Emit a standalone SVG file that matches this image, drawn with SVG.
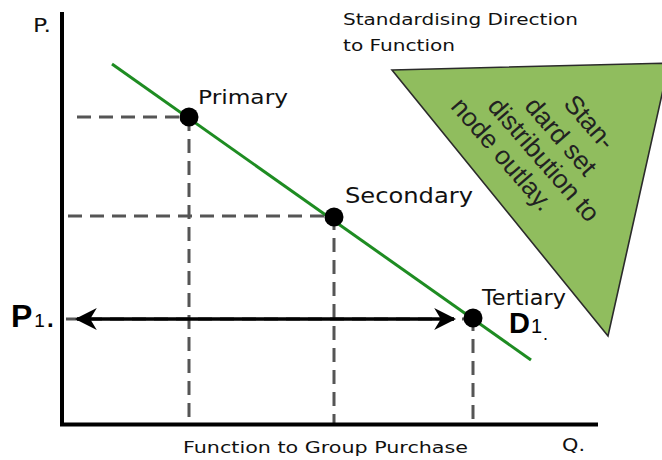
<svg xmlns="http://www.w3.org/2000/svg" width="662" height="460" viewBox="0 0 662 460">
<defs>
<style>
.lbl{font-family:"DejaVu Sans","Liberation Sans",sans-serif;fill:#111}
.big{font-family:"Liberation Sans",Arial,sans-serif;fill:#000}
.dash{stroke:#555;stroke-width:3;stroke-dasharray:14 8;fill:none}
.axis{stroke:#000;stroke-width:4;fill:none}
.dot{fill:#000}
.tri{font-family:"Liberation Sans",Arial,sans-serif;font-size:26px;fill:#222}
</style>
<marker id="ah" markerUnits="userSpaceOnUse" markerWidth="22" markerHeight="22" viewBox="0 0 20 20" refX="18" refY="10" orient="auto-start-reverse">
<path d="M0,0 L20,10 L0,20 L6,10 z" fill="#000"/>
</marker>
</defs>
<rect width="662" height="460" fill="#fff"/>

<g id="triangle">
<polygon points="392,70 669,63 608,336" fill="#90bd5e" stroke="#2b2b2b" stroke-width="1.6"/>
<g transform="rotate(49)" class="tri">
<text x="448" y="-356">Stan-</text>
<text x="424" y="-325">dard set</text>
<text x="400" y="-297">distribution to</text>
<text x="376" y="-269">node outlay.</text>
</g>
</g>

<g id="connectors">
<path class="dash" d="M77,117 H189 M68,216 H334 M66,319 H473 M189,117 V424 M334,216 V424 M473,317 V424"/>
<path class="axis" d="M62,12 V424.5 H598"/>
<line x1="112" y1="64" x2="531" y2="360" stroke="#1e8c22" stroke-width="3"/>
<line x1="77" y1="319" x2="454" y2="319" stroke="#000" stroke-width="3.5" marker-start="url(#ah)" marker-end="url(#ah)"/>
</g>

<g id="primary">
<circle class="dot" cx="189" cy="117" r="9.5"/>
<text class="lbl" x="198" y="104" font-size="20" textLength="90" lengthAdjust="spacingAndGlyphs">Primary</text>
</g>
<g id="secondary">
<circle class="dot" cx="334" cy="217" r="9.5"/>
<text class="lbl" x="345" y="203" font-size="21" textLength="128" lengthAdjust="spacingAndGlyphs">Secondary</text>
</g>
<g id="tertiary">
<circle class="dot" cx="473" cy="318" r="9.5"/>
<text class="lbl" x="482" y="305" font-size="21" textLength="84" lengthAdjust="spacingAndGlyphs">Tertiary</text>
</g>

<g id="title">
<text class="lbl" x="343" y="25" font-size="16" textLength="235" lengthAdjust="spacingAndGlyphs">Standardising Direction</text>
<text class="lbl" x="343" y="51" font-size="16" textLength="112" lengthAdjust="spacingAndGlyphs">to Function</text>
</g>

<g id="axis-labels">
<text class="lbl" x="33" y="32" font-size="20" textLength="18" lengthAdjust="spacingAndGlyphs">P.</text>
<text class="lbl" x="183" y="453" font-size="16" textLength="285" lengthAdjust="spacingAndGlyphs">Function to Group Purchase</text>
<text class="lbl" x="562" y="451" font-size="18" textLength="23" lengthAdjust="spacingAndGlyphs">Q.</text>
</g>

<g id="p1">
<text class="big" x="11" y="327"><tspan font-size="32" font-weight="bold">P</tspan><tspan font-size="19" dx="2">1</tspan><tspan font-size="24" font-weight="bold" dx="2">.</tspan></text>
</g>
<g id="d1">
<text class="big" x="509" y="333"><tspan font-size="29" font-weight="bold">D</tspan><tspan font-size="20" dx="1">1</tspan><tspan font-size="18" dx="1" dy="7">.</tspan></text>
</g>
</svg>
